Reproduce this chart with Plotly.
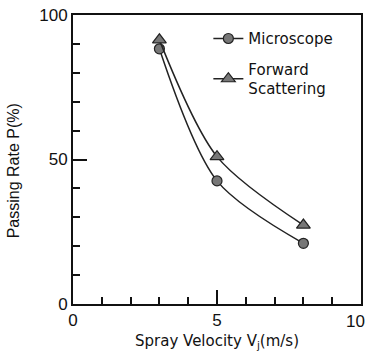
import plotly.graph_objects as go

velocity = [3, 5, 8]
microscope = [88.3, 42.6, 21.0]
forward_scattering = [91.4, 51.0, 27.3]
series_names = ["Microscope", "Forward<br>Scattering"]
x_ticks = [0, 5, 10]
y_ticks = [0, 50, 100]

fig = go.Figure()
fig.add_trace(go.Scatter(
    x=velocity, y=microscope, name=series_names[0], legendgroup="a",
    mode="lines+markers", line=dict(color="#222", width=1.5, shape="spline", smoothing=0.85),
    marker=dict(symbol="circle", size=10, color="#777", line=dict(color="#222", width=1.2)),
))
fig.add_trace(go.Scatter(
    x=velocity, y=forward_scattering, name=series_names[1], legendgroup="b",
    mode="lines+markers", line=dict(color="#222", width=1.5, shape="spline", smoothing=0.85),
    marker=dict(symbol="triangle-up", size=12, color="#777", line=dict(color="#222", width=1.2)),
))

axis_font = dict(family="Liberation Sans, Arial", size=17, color="#111")
fig.update_layout(
    width=369, height=358,
    margin=dict(l=73, r=6, t=12, b=54),
    plot_bgcolor="white", paper_bgcolor="white",
    showlegend=True,
    legend=dict(x=0.47, y=0.975, xanchor="left", yanchor="top",
                font=dict(family="DejaVu Sans", size=15, color="#111"),
                bgcolor="rgba(0,0,0,0)", tracegroupgap=8, itemwidth=30, traceorder="grouped"),
    xaxis=dict(range=[0, 10], tickvals=x_ticks[:2], ticks="inside", ticklen=14, tickwidth=1.5,
               tickcolor="#111", showline=True, linecolor="#111", linewidth=2, mirror=True,
               showgrid=False, zeroline=False, tickfont=axis_font,
               minor=dict(dtick=1, ticks="inside", ticklen=7, tickwidth=1.5, tickcolor="#111", showgrid=False),
               title=dict(text="Spray Velocity V<sub>j</sub>(m/s)", font=dict(family="DejaVu Sans", size=15, color="#111"), standoff=6)),
    yaxis=dict(range=[0, 100], tickvals=y_ticks, ticks="inside", ticklen=14, tickwidth=1.5,
               tickcolor="#111", showline=True, linecolor="#111", linewidth=2, mirror=True,
               showgrid=False, zeroline=False, tickfont=axis_font,
               minor=dict(dtick=10, ticks="inside", ticklen=7, tickwidth=1.5, tickcolor="#111", showgrid=False)),
)
fig.add_annotation(x=x_ticks[2], y=0, xref="x", yref="paper", text=str(x_ticks[2]),
                   showarrow=False, xanchor="right", yanchor="top", xshift=6, yshift=-6,
                   font=axis_font)
fig.add_annotation(x=0, y=0.459, xref="paper", yref="paper", text="Passing Rate P(%)",
                   showarrow=False, textangle=-90, xanchor="center", yanchor="middle",
                   xshift=-60, font=dict(family="Liberation Sans, Arial", size=16, color="#111"))
fig.write_html("out.html")
